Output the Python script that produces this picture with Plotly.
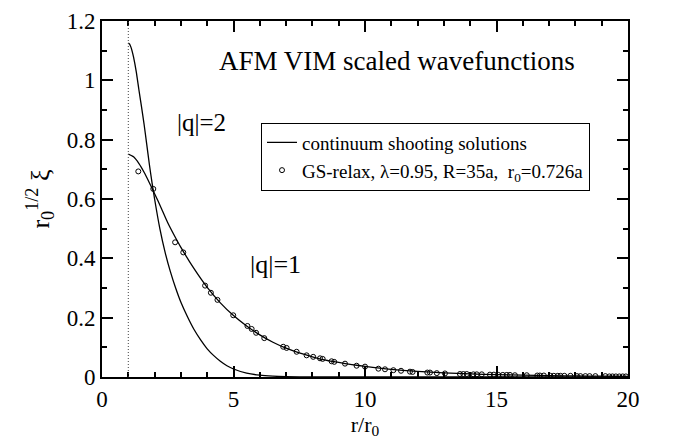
import plotly.graph_objects as go

# continuum shooting solution |q|=1
q1_x = [1.0, 1.2, 1.4, 1.6, 1.8, 2.0, 2.25, 2.5, 2.75, 3.0, 3.5, 4.0, 4.5, 5.0, 5.5, 6.0, 6.5,
        7.0, 7.5, 8.0, 8.5, 9.0, 9.5, 10, 11, 12, 13, 14, 15, 16, 17, 18, 19, 20]
q1_y = [0.751, 0.742, 0.72, 0.69, 0.655, 0.618, 0.57, 0.52, 0.477, 0.437, 0.365, 0.302, 0.25,
        0.207, 0.172, 0.142, 0.117, 0.097, 0.081, 0.068, 0.057, 0.049, 0.042, 0.036, 0.026,
        0.019, 0.014, 0.0105, 0.008, 0.006, 0.0045, 0.0035, 0.0027, 0.002]

# continuum shooting solution |q|=2
q2_x = [1.0, 1.05, 1.1, 1.15, 1.2, 1.3, 1.4, 1.5, 1.6, 1.7, 1.8, 1.9, 2.0, 2.2, 2.4, 2.6, 2.8,
        3.0, 3.25, 3.5, 3.75, 4.0, 4.25, 4.5, 4.75, 5.0, 5.5, 6.0, 6.5, 7.0, 8.0, 9.0, 10, 20]
q2_y = [1.126, 1.122, 1.112, 1.097, 1.078, 1.03, 0.97, 0.912, 0.852, 0.785, 0.717, 0.656, 0.60,
        0.50, 0.42, 0.355, 0.30, 0.252, 0.203, 0.16, 0.125, 0.095, 0.072, 0.053, 0.038, 0.027,
        0.013, 0.006, 0.0028, 0.0013, 0.0003, 0.0001, 0.0, 0.0]

# GS-relax data points
gs_x = [1.38, 1.95, 2.78, 3.09, 3.92, 4.14, 4.39, 4.99, 5.53, 5.69, 5.86, 6.17, 6.89, 7.02,
        7.40, 7.78, 8.03, 8.29, 8.39, 8.73, 8.83, 9.24, 9.68, 10.0, 10.51, 10.76, 11.08,
        11.37, 11.71, 11.81, 12.37, 12.47, 12.73, 13.04, 13.61, 13.74, 13.87, 14.12, 14.25,
        14.44, 14.75, 14.90, 15.07, 15.24, 15.39, 15.51, 15.70, 16.15, 16.55, 16.65, 16.80,
        17.05, 17.18, 17.33, 17.43, 17.58, 17.81, 18.06, 18.19, 18.38, 18.54, 18.76, 19.14,
        19.29, 19.41, 19.54, 19.67, 19.80, 19.92]
gs_y = [0.693, 0.634, 0.454, 0.42, 0.308, 0.284, 0.26, 0.208, 0.172, 0.162, 0.149, 0.131,
        0.102, 0.098, 0.085, 0.073, 0.068, 0.063, 0.061, 0.053, 0.051, 0.045, 0.038, 0.035,
        0.028, 0.026, 0.023, 0.021, 0.018, 0.017, 0.015, 0.015, 0.013, 0.012, 0.010, 0.010,
        0.010, 0.009, 0.009, 0.009, 0.008, 0.008, 0.007, 0.007, 0.007, 0.007, 0.006, 0.006,
        0.005, 0.005, 0.005, 0.004, 0.004, 0.004, 0.004, 0.004, 0.004, 0.003, 0.003, 0.003,
        0.003, 0.003, 0.003, 0.002, 0.002, 0.002, 0.002, 0.002, 0.002]

core_x = 1.0
y_max = 1.2

FONT = "Liberation Serif"
L, R, T, B = 102, 45, 9, 64
W, H = 673, 441
pw, ph = W - L - R, H - T - B


def px_to_paper(px, py):
    return (px - L) / pw, (H - B - py) / ph


fig = go.Figure()
fig.add_trace(go.Scatter(x=q1_x, y=q1_y, mode="lines",
                         line=dict(color="black", width=1.3, shape="spline", smoothing=0.6),
                         name="continuum shooting solutions"))
fig.add_trace(go.Scatter(x=q2_x, y=q2_y, mode="lines",
                         line=dict(color="black", width=1.3, shape="spline", smoothing=0.6),
                         showlegend=False))
fig.add_trace(go.Scatter(x=gs_x, y=gs_y, mode="markers",
                         marker=dict(symbol="circle-open", size=5, color="black", line=dict(width=1)),
                         name="GS-relax, λ=0.95, R=35a,\u00a0 r<sub>0</sub>=0.726a"))

fig.add_shape(type="line", x0=core_x, x1=core_x, y0=0, y1=y_max, xref="x", yref="y",
              line=dict(color="#444444", width=1, dash="1px,2px"))

tx, ty = px_to_paper(217, 50)
fig.add_annotation(text="AFM VIM scaled wavefunctions", x=tx, y=ty, xref="paper", yref="paper",
                   xanchor="left", yanchor="middle", showarrow=False,
                   font=dict(family=FONT, size=27, color="black"))
ax2, ay2 = px_to_paper(175, 98)
fig.add_annotation(text="|q|=2", x=ax2, y=ay2, xref="paper", yref="paper", showarrow=False,
                   font=dict(family=FONT, size=25, color="black"))
ax1, ay1 = px_to_paper(248, 278)
fig.add_annotation(text="|q|=1", x=ax1, y=ay1, xref="paper", yref="paper", showarrow=False,
                   font=dict(family=FONT, size=26, color="black"))

tick_font = dict(family=FONT, size=23, color="black")

fig.update_xaxes(range=[0, 20], dtick=5, tick0=0,
                 showline=True, linecolor="black", linewidth=2, mirror="ticks", ticks="inside",
                 tickcolor="black", tickwidth=1.5, ticklen=11, showgrid=False, zeroline=False,
                 tickfont=tick_font, ticklabeloverflow="allow",
                 minor=dict(dtick=1, ticks="inside", ticklen=5, tickcolor="black", tickwidth=1.5),
                 title=dict(text="r/r<sub>0</sub>", font=dict(family=FONT, size=22, color="black"), standoff=2))
fig.update_yaxes(range=[0, 1.2], dtick=0.2, tick0=0,
                 showline=True, linecolor="black", linewidth=2, mirror="ticks", ticks="inside",
                 tickcolor="black", tickwidth=1.5, ticklen=11, showgrid=False, zeroline=False,
                 tickfont=tick_font, ticklabeloverflow="allow",
                 minor=dict(dtick=0.1, ticks="inside", ticklen=5, tickcolor="black", tickwidth=1.5),
                 title=dict(text="r<sub>0</sub><sup>1/2</sup> ξ", font=dict(family=FONT, size=26, color="black"), standoff=10))

fig.update_layout(width=W, height=H, autosize=False,
                  margin=dict(l=L, r=R, t=T, b=B),
                  paper_bgcolor="white", plot_bgcolor="white",
                  font=dict(family=FONT, size=22, color="black"),
                  legend=dict(x=(261 - L) / pw, y=(H - B - 114) / ph, xanchor="left", yanchor="top",
                              bgcolor="white", bordercolor="black", borderwidth=1,
                              font=dict(family=FONT, size=19, color="black"),
                              itemwidth=30, tracegroupgap=0))

fig.write_html("out.html")
